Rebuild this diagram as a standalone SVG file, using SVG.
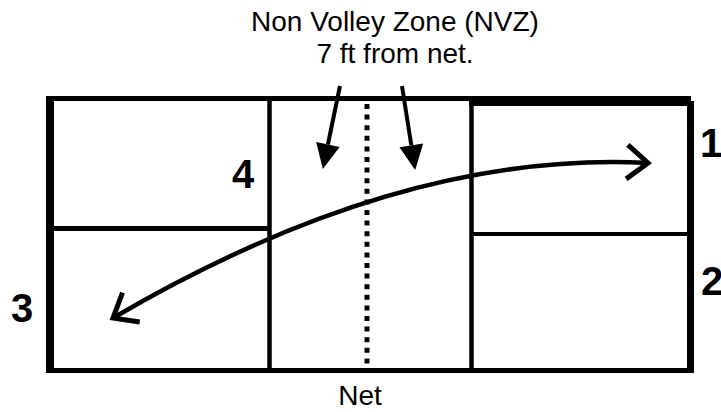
<svg xmlns="http://www.w3.org/2000/svg" width="721" height="412" viewBox="0 0 721 412">
  <style>
    .ln { stroke: #000; fill: none; }
    .lbl { font-family: "Liberation Sans", Arial, Helvetica, sans-serif; fill: #000; }
    .num { font-size: 40px; font-weight: bold; }
    .txt { font-size: 28px; }
  </style>
  <defs>
    <marker id="chev" markerUnits="userSpaceOnUse" viewBox="-40 -30 50 60" markerWidth="50" markerHeight="60" refX="0" refY="0" orient="auto-start-reverse">
      <path d="M-21,-17 L0,0 L-21,17" fill="none" stroke="#000" stroke-width="5" stroke-linejoin="miter"/>
    </marker>
    <marker id="tri" markerUnits="userSpaceOnUse" viewBox="-2 -14 30 28" markerWidth="30" markerHeight="28" refX="0" refY="0" orient="auto">
      <path d="M25,0 L0,-12 L0,12 Z" fill="#000"/>
    </marker>
  </defs>
  <rect width="721" height="412" fill="#fff"/>

  <g id="court">
    <line class="ln" x1="46" y1="98.5" x2="691" y2="98.5" stroke-width="5"/>
    <line class="ln" x1="50" y1="96" x2="50" y2="373" stroke-width="8"/>
    <line class="ln" x1="46" y1="370.5" x2="694" y2="370.5" stroke-width="5"/>
  </g>

  <g id="zone-4">
    <line class="ln" x1="269.5" y1="98" x2="269.5" y2="371" stroke-width="4.5"/>
    <line class="ln" x1="52" y1="228.5" x2="270" y2="228.5" stroke-width="5"/>
    <text class="lbl num" x="232" y="188">4</text>
  </g>

  <g id="zone-3">
    <text class="lbl num" x="11" y="322">3</text>
  </g>

  <g id="zone-1">
    <line class="ln" x1="469" y1="103.5" x2="690" y2="103.5" stroke-width="5"/>
    <line class="ln" x1="471.5" y1="101" x2="471.5" y2="371" stroke-width="4.5"/>
    <line class="ln" x1="690.5" y1="101" x2="690.5" y2="373" stroke-width="7"/>
    <text class="lbl num" x="700" y="157">1</text>
  </g>

  <g id="zone-2">
    <line class="ln" x1="471" y1="234" x2="690" y2="234" stroke-width="4"/>
    <text class="lbl num" x="701" y="295">2</text>
  </g>

  <g id="net">
    <line class="ln" x1="367" y1="104" x2="367" y2="368" stroke-width="5" stroke-dasharray="5 5.6"/>
    <text class="lbl txt" x="360" y="405" text-anchor="middle">Net</text>
  </g>

  <g id="nvz-label">
    <text class="lbl txt" x="395" y="31" text-anchor="middle">Non Volley Zone (NVZ)</text>
    <text class="lbl txt" x="395" y="63" text-anchor="middle">7 ft from net.</text>
  </g>

  <g id="connectors">
    <path class="ln" d="M113,318 Q400,150 648,163" stroke-width="4.5" marker-start="url(#chev)" marker-end="url(#chev)"/>
    <line class="ln" x1="340" y1="86" x2="327.9" y2="144.5" stroke-width="4" marker-end="url(#tri)"/>
    <line class="ln" x1="402" y1="86" x2="411.3" y2="145.3" stroke-width="4" marker-end="url(#tri)"/>
  </g>
</svg>
